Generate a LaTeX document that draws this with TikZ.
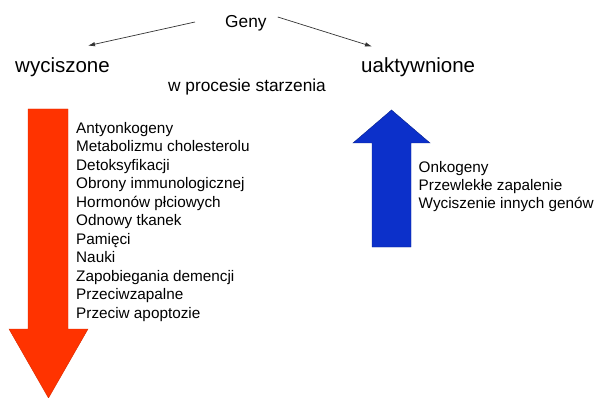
\documentclass[tikz,border=0pt]{standalone}
\usepackage{fontspec}
\setmainfont{Liberation Sans}
\usepackage{xcolor}
\usetikzlibrary{arrows.meta}
\definecolor{silencedred}{HTML}{FF3300}
\definecolor{activeblue}{HTML}{0C30CA}
\definecolor{linkgray}{HTML}{333333}

\begin{document}
\begin{tikzpicture}[x=1pt,y=-1pt,
  heading/.style={anchor=base west,inner sep=0pt,font=\fontsize{20.5}{24}\selectfont},
  subhead/.style={anchor=base west,inner sep=0pt,font=\fontsize{17.3}{20}\selectfont},
  item/.style={anchor=base west,inner sep=0pt,font=\fontsize{15.3}{18}\selectfont},
  link/.style={-{Latex[length=7pt,width=4.5pt]},line width=0.7pt,linkgray}]

\useasboundingbox (0,0) rectangle (597,398);

% titles
\node[subhead] (geny) at (225,28) {Geny};
\node[heading] (silenced) at (15,72.7) {wyciszone};
\node[heading] (activated) at (361,72.5) {uaktywnione};
\node[subhead] (ageing) at (168,91.7) {w procesie starzenia};

\draw[link] ([shift={(-30,-6)}]geny.base west) -- ([shift={(73,-27)}]silenced.base west);
\draw[link] ([shift={(11,-11)}]geny.base east) -- ([shift={(11,-26)}]activated.base west);

% big arrows
\filldraw[fill=silencedred,draw=silencedred!85!black,line width=0.4pt]
  (28,109) -- (68,109) -- (68,329) -- (88,329) -- (48.5,398)
  -- (9,329) -- (28,329) -- cycle;
\filldraw[fill=activeblue,draw=activeblue!70!black,line width=0.4pt]
  (372,247) -- (411,247) -- (411,143) -- (430,143) -- (391.5,110)
  -- (353,143) -- (372,143) -- cycle;

% lists
\foreach \lab [count=\i] in {Antyonkogeny,Metabolizmu cholesterolu,Detoksyfikacji,
  Obrony immunologicznej,Hormonów płciowych,Odnowy tkanek,Pamięci,Nauki,
  Zapobiegania demencji,Przeciwzapalne,Przeciw apoptozie}{
  \node[item] (down\i) at (76,{133.3+18.5*(\i-1)}) {\lab};
}
\foreach \lab [count=\i] in {Onkogeny,Przewlekłe zapalenie,Wyciszenie innych genów}{
  \node[item] (up\i) at (418.5,{172.7+18*(\i-1)}) {\lab};
}

\end{tikzpicture}
\end{document}
